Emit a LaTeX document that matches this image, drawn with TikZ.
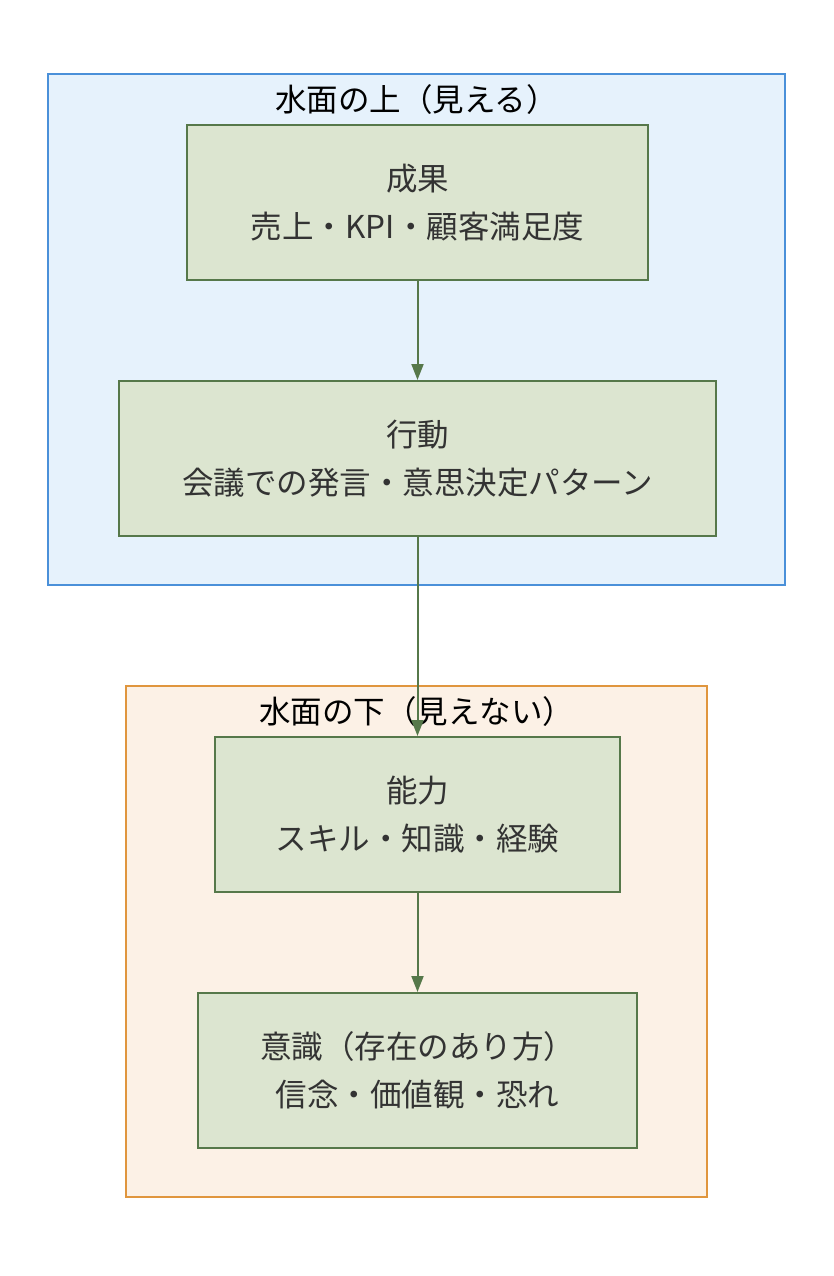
\documentclass[tikz,border=0pt]{standalone}
\usepackage{fontspec}
\setmainfont{Noto Sans CJK JP}
\usetikzlibrary{arrows.meta}
\definecolor{bluefill}{HTML}{E6F2FC}
\definecolor{bluedraw}{HTML}{4A90D9}
\definecolor{orangefill}{HTML}{FCF1E6}
\definecolor{orangedraw}{HTML}{E0963E}
\definecolor{greenfill}{HTML}{DCE5D0}
\definecolor{greendraw}{HTML}{56784A}
\definecolor{boxtext}{HTML}{333333}
\tikzset{
  container/.style={line width=2pt},
  stepbox/.style={draw=greendraw, fill=greenfill, line width=2pt, text=boxtext,
    align=center, font=\fontsize{31.5}{48}\selectfont, anchor=north west, inner sep=0pt},
  title/.style={text=black, font=\fontsize{31.5}{36}\selectfont, inner sep=0pt},
  conn/.style={draw=greendraw, line width=2pt, -{Triangle[length=16pt,width=12pt]}}
}
\begin{document}
\begin{tikzpicture}[x=1pt,y=-1pt]
\useasboundingbox (0,0) rectangle (834,1276);
\fill[white] (0,0) rectangle (834,1276);
% containers
\draw[container, draw=bluedraw, fill=bluefill] (48,74) rectangle (785,585);
\node[title] (t1) at (416.5,100) {水面の上（見える）};
\draw[container, draw=orangedraw, fill=orangefill] (126,686) rectangle (707,1197);
\node[title] (t2) at (416.5,712) {水面の下（見えない）};
% boxes
\node[stepbox, minimum width=461pt, minimum height=155pt] (b1) at (186,124) {成果\\売上・KPI・顧客満足度};
\node[stepbox, minimum width=597pt, minimum height=155pt] (b2) at (118,380) {行動\\会議での発言・意思決定パターン};
\node[stepbox, minimum width=405pt, minimum height=155pt] (b3) at (214,736) {能力\\スキル・知識・経験};
\node[stepbox, minimum width=439pt, minimum height=155pt] (b4) at (197,992) {意識（存在のあり方）\\ 信念・価値観・恐れ};
% connectors
\draw[conn] (b1.south) -- (b2.north);
\draw[conn] (b2.south) -- (b3.north);
\draw[conn] (b3.south) -- (b4.north);
\end{tikzpicture}
\end{document}
